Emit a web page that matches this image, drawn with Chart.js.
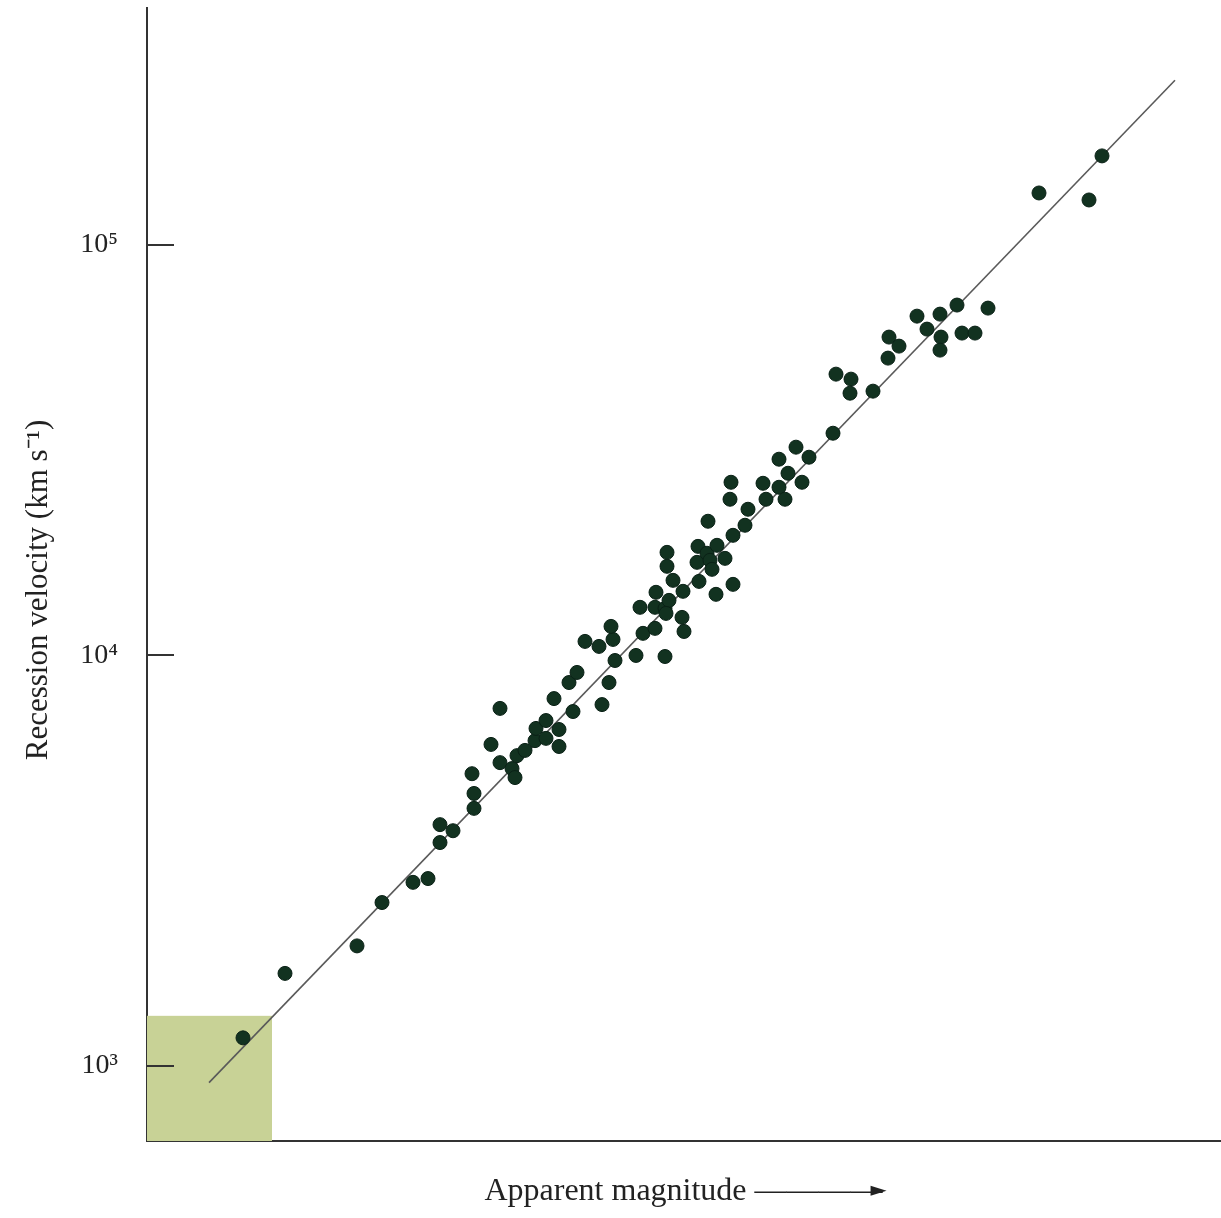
<!DOCTYPE html>
<html>
<head>
<meta charset="utf-8">
<script src="https://cdn.jsdelivr.net/npm/chart.js@4.4.1/dist/chart.umd.min.js"></script>
<style>
  html, body { margin: 0; padding: 0; background: #fff; }
</style>
</head>
<body>
<canvas id="myChart" width="1221" height="1218"></canvas>
<script>
const ctx = document.getElementById('myChart');

// galaxies: apparent magnitude (arbitrary units) and recession velocity in km/s
var magnitude = [
    0.96, 1.38, 2.10, 2.35, 2.66, 2.81, 2.93, 3.06, 2.93, 3.25,
    3.27, 3.27, 3.53, 3.44, 3.53, 3.65, 3.68, 3.70, 3.78, 3.88,
    3.89, 3.99, 3.99, 4.12, 4.12, 4.07, 4.26, 4.22, 4.30, 4.55,
    4.62, 4.68, 4.38, 4.52, 4.66, 4.64, 4.89, 5.18, 4.96, 5.08,
    4.93, 5.09, 5.08, 5.18, 5.22, 5.19, 5.35, 5.37, 5.26, 5.36,
    5.20, 5.20, 5.50, 5.51, 5.60, 5.63, 5.70, 5.65, 5.78, 5.52,
    5.69, 5.86, 5.86, 5.98, 5.61, 6.86, 6.49, 6.32, 6.62, 6.41,
    6.16, 6.32, 6.55, 6.19, 6.38, 5.84, 5.83, 6.01, 6.89, 7.04,
    7.03, 7.26, 7.41, 7.42, 7.52, 7.70, 7.80, 7.93, 7.94, 7.93,
    8.10, 8.15, 8.28, 8.41, 8.92, 9.42, 9.55
];
var velocity = [
    1170, 1680, 1960, 2500, 2800, 2860, 3870, 3740, 3500, 5150,
    4610, 4240, 7430, 6070, 5480, 5300, 5040, 5700, 5870, 6200,
    6640, 6940, 6280, 6600, 6000, 7850, 7300, 8590, 9090, 7590,
    8590, 9720, 10820, 10520, 10940, 11770, 10000, 9940, 11320, 11640,
    13100, 14250, 13100, 13020, 13620, 12660, 12380, 11440, 15240, 14330,
    16490, 17830, 16860, 18440, 17740, 17050, 18550, 16210, 17240, 15150,
    14090, 14900, 19620, 20760, 21230, 34790, 32170, 30070, 30410, 27790,
    26270, 25690, 26420, 24020, 24020, 26420, 24020, 22710, 48460, 47120,
    43550, 44050, 53020, 59660, 56710, 67100, 62390, 67860, 59660, 55450,
    71400, 61010, 61010, 70190, 133900, 128750, 164870
];

// straight-line fit drawn through the cloud
var fitMagnitude = [0.62, 10.28];
var fitVelocity = [910, 252000];

// shaded box in the lower left corner (data units)
var shadeMagnitude = [0, 1.25];
var shadeVelocity = [656, 1324];

var yTicks = [1000, 10000, 100000];
var yTickLabels = ['10³', '10⁴', '10⁵'];

var points = [];
for (let i = 0; i < magnitude.length; i++) {
    points.push({ x: magnitude[i], y: velocity[i] });
}
var fitLine = [];
for (let i = 0; i < fitMagnitude.length; i++) {
    fitLine.push({ x: fitMagnitude[i], y: fitVelocity[i] });
}

const serif = 'Liberation Serif';
const xTitleText = 'Apparent magnitude ————';
const xTitleSize = 32;
const xTitlePad = 7;

// green box behind the points
const shadePlugin = {
    id: 'shade',
    beforeDatasetsDraw(chart) {
        const x = chart.scales.x, y = chart.scales.y;
        const c = chart.ctx;
        const x0 = x.getPixelForValue(shadeMagnitude[0]);
        const x1 = x.getPixelForValue(shadeMagnitude[1]);
        const y0 = y.getPixelForValue(shadeVelocity[1]);
        const y1 = y.getPixelForValue(shadeVelocity[0]);
        c.save();
        c.fillStyle = '#c8d296';
        c.fillRect(x0, y0, x1 - x0, y1 - y0);
        c.restore();
    }
};

// tick marks point into the plot, plus the arrow head after the x title
const innerTicks = {
    id: 'innerTicks',
    afterDraw(chart) {
        const y = chart.scales.y, x = chart.scales.x;
        const c = chart.ctx;
        const left = chart.chartArea.left;
        c.save();
        c.strokeStyle = '#333';
        c.lineWidth = 2;
        y.ticks.forEach(t => {
            const py = Math.round(y.getPixelForValue(t.value));
            c.beginPath();
            c.moveTo(left, py);
            c.lineTo(left + 27, py);
            c.stroke();
        });

        // arrow head at the end of the dashes
        c.font = xTitleSize + 'px "' + serif + '"';
        const w = c.measureText(xTitleText).width;
        const cx = (x.left + x.right) / 2;
        const tipX = cx + w / 2 + 4;
        const tipY = x.bottom - (xTitleSize * 1.2) / 2 - xTitlePad - 1;
        c.fillStyle = '#222';
        c.beginPath();
        c.moveTo(tipX, tipY);
        c.lineTo(tipX - 16, tipY - 5);
        c.lineTo(tipX - 16, tipY + 5);
        c.closePath();
        c.fill();
        c.restore();
    }
};

new Chart(ctx, {
    type: 'scatter',
    data: {
        datasets: [
            {
                label: 'galaxies',
                data: points,
                backgroundColor: '#123220',
                borderColor: '#0a2116',
                borderWidth: 1,
                pointRadius: 7,
                pointHoverRadius: 7
            },
            {
                type: 'line',
                label: 'fit',
                data: fitLine,
                borderColor: '#5a5a5a',
                borderWidth: 1.6,
                pointRadius: 0,
                fill: false,
                tension: 0
            }
        ]
    },
    options: {
        responsive: false,
        animation: false,
        layout: { autoPadding: false, padding: { top: 8, right: 1, left: 0, bottom: 0 } },
        plugins: {
            legend: { display: false },
            tooltip: { enabled: false }
        },
        scales: {
            x: {
                type: 'linear',
                min: 0,
                max: 10.73,
                ticks: { display: false },
                grid: { drawOnChartArea: false, drawTicks: false },
                border: { color: '#333', width: 2 },
                title: {
                    display: true,
                    text: xTitleText,
                    color: '#222',
                    font: { family: serif, size: xTitleSize },
                    padding: { top: 0, bottom: xTitlePad }
                },
                afterFit(scale) {
                    scale.height = 77;
                    scale.paddingLeft = 0;
                    scale.paddingRight = 0;
                }
            },
            y: {
                type: 'logarithmic',
                position: 'left',
                min: 656,
                max: 378000,
                afterBuildTicks(scale) {
                    scale.ticks = yTicks.map(v => ({ value: v }));
                },
                ticks: {
                    color: '#222',
                    padding: 29,
                    font: { family: serif, size: 28 },
                    callback: (value, index) => yTickLabels[index]
                },
                grid: { drawOnChartArea: false, drawTicks: false },
                border: { color: '#333', width: 2 },
                title: {
                    display: true,
                    // trailing spaces nudge the label a bit lower, as on the page
                    text: 'Recession velocity (km s⁻¹)\u00a0\u00a0\u00a0\u00a0',
                    color: '#222',
                    font: { family: serif, size: 31 },
                    padding: { top: 20, bottom: 0 }
                },
                afterFit(scale) {
                    scale.width = 147;
                    scale.paddingTop = 0;
                    scale.paddingBottom = 0;
                }
            }
        }
    },
    plugins: [shadePlugin, innerTicks]
});
</script>
</body>
</html>
